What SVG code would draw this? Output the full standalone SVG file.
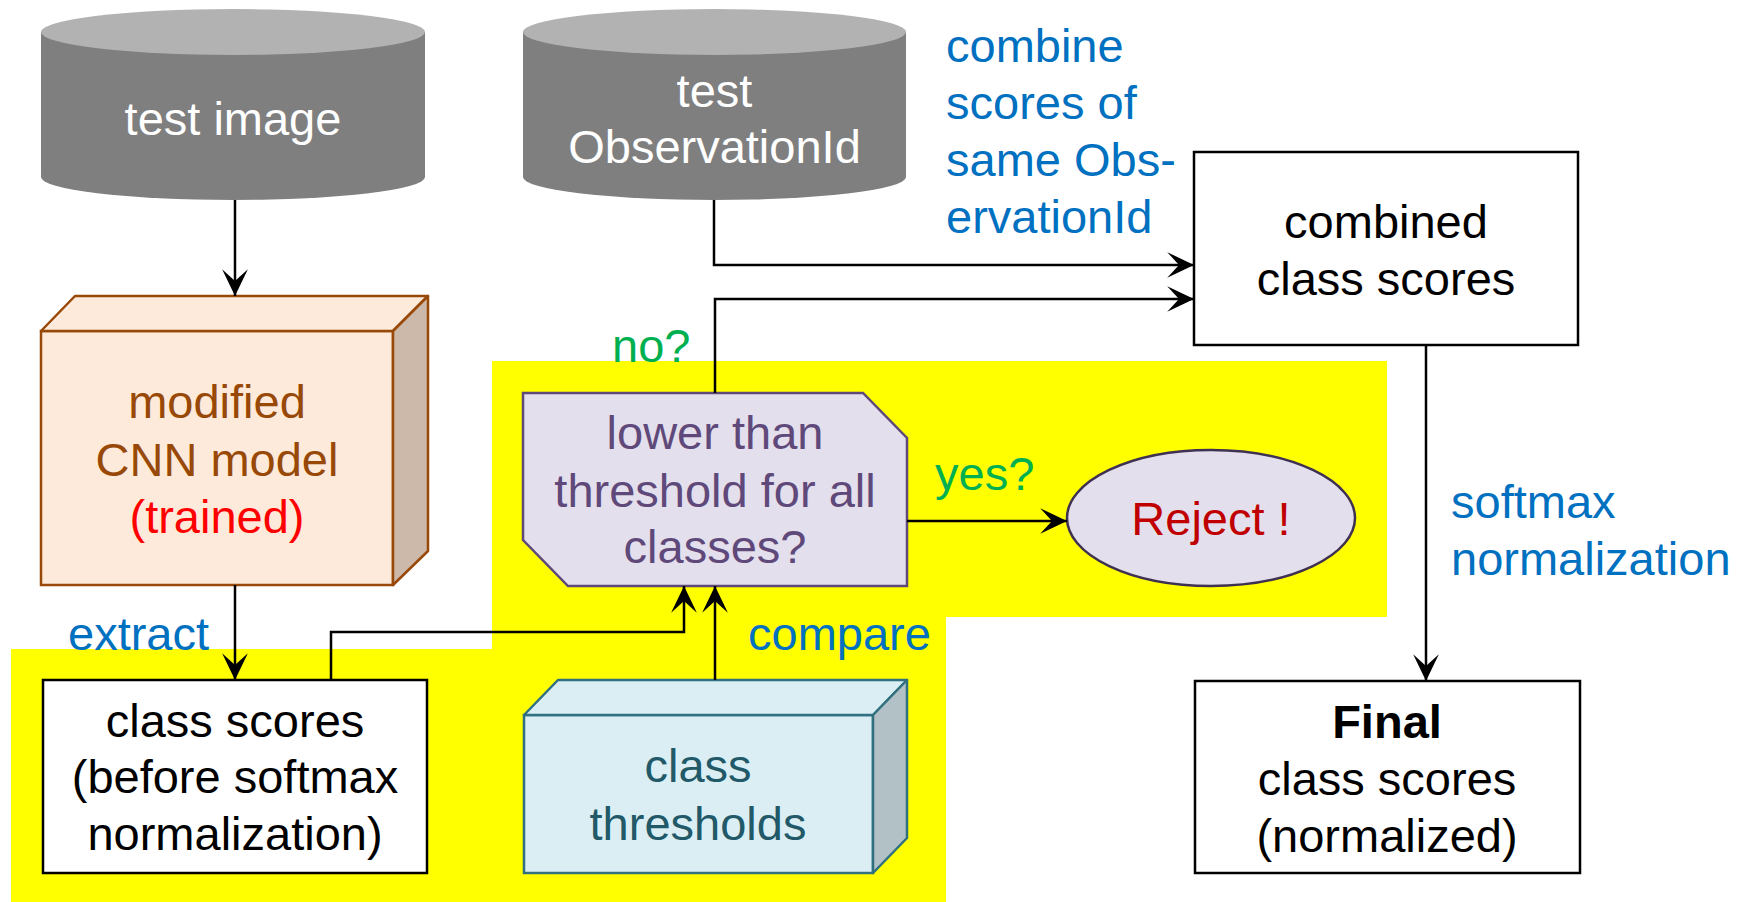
<svg xmlns="http://www.w3.org/2000/svg" width="1746" height="902" viewBox="0 0 1746 902">
<defs>
<style>
text{font-family:"Liberation Sans",Arial,sans-serif;font-size:47px}
.c{text-anchor:middle}
.blue{fill:#0070C0}
.green{fill:#00B050}
.conn{fill:none;stroke:#000;stroke-width:2.5}
.box{fill:#fff;stroke:#000;stroke-width:2.5}
</style>
<marker id="arr" markerUnits="userSpaceOnUse" markerWidth="30" markerHeight="30" viewBox="-27 -14 28 28" refX="0" refY="0" orient="auto">
<path d="M0,0 L-25,-12 L-14,0 L-25,12 Z" fill="#000"/>
</marker>
</defs>
<rect width="1746" height="902" fill="#fff"/>
<polygon id="highlight" points="11,649 492,649 492,361 1387,361 1387,617 946,617 946,902 11,902" fill="#FFFF00"/>

<g id="test-image">
<rect x="41" y="32" width="384" height="145" fill="#7F7F7F"/>
<ellipse cx="233" cy="177" rx="192" ry="23" fill="#7F7F7F"/>
<ellipse cx="233" cy="32" rx="192" ry="23" fill="#B2B2B2"/>
<text x="233" y="135" class="c" fill="#fff">test image</text>
</g>

<g id="test-observationid">
<rect x="523" y="32" width="383" height="145" fill="#7F7F7F"/>
<ellipse cx="714.5" cy="177" rx="191.5" ry="23" fill="#7F7F7F"/>
<ellipse cx="714.5" cy="32" rx="191.5" ry="23" fill="#B2B2B2"/>
<text x="714.5" y="107" class="c" fill="#fff">test</text>
<text x="714.5" y="163" class="c" fill="#fff">ObservationId</text>
</g>

<g id="cnn-model">
<rect x="41" y="331" width="352" height="254" fill="#FDEADA" stroke="#984807" stroke-width="2.5"/>
<polygon points="41,331 75,296 428,296 393,331" fill="#FDEADA" stroke="#984807" stroke-width="2.5" stroke-linejoin="round"/>
<polygon points="393,331 428,296 428,551 393,585" fill="#CDB9AA" stroke="#984807" stroke-width="2.5" stroke-linejoin="round"/>
<text x="217" y="418" class="c" fill="#984807">modified</text>
<text x="217" y="476" class="c" fill="#984807">CNN model</text>
<text x="217" y="533" class="c" fill="#FF0000">(trained)</text>
</g>

<g id="class-scores">
<rect x="43" y="680" width="384" height="193" class="box"/>
<text x="235" y="737" class="c">class scores</text>
<text x="235" y="793" class="c">(before softmax</text>
<text x="235" y="850" class="c">normalization)</text>
</g>

<g id="class-thresholds">
<rect x="524" y="715" width="349" height="158" fill="#DBEEF4" stroke="#31707F" stroke-width="2.5"/>
<polygon points="524,715 558,680 907,680 873,715" fill="#DBEEF4" stroke="#31707F" stroke-width="2.5" stroke-linejoin="round"/>
<polygon points="873,715 907,680 907,838 873,873" fill="#B1C1C6" stroke="#31707F" stroke-width="2.5" stroke-linejoin="round"/>
<text x="698" y="782" class="c" fill="#215968">class</text>
<text x="698" y="840" class="c" fill="#215968">thresholds</text>
</g>

<g id="decision">
<polygon points="523,393 863,393 907,438 907,586 568,586 523,540" fill="#E4DFEC" stroke="#5F497A" stroke-width="2.5"/>
<text x="715" y="449" class="c" fill="#5F497A">lower than</text>
<text x="715" y="507" class="c" fill="#5F497A">threshold for all</text>
<text x="715" y="563" class="c" fill="#5F497A">classes?</text>
</g>

<g id="reject">
<ellipse cx="1211" cy="518" rx="144" ry="68" fill="#E4DFEC" stroke="#3F3151" stroke-width="2.5"/>
<text x="1211" y="535" class="c" fill="#C00000">Reject !</text>
</g>

<g id="combined-scores">
<rect x="1194" y="152" width="384" height="193" class="box"/>
<text x="1386" y="238" class="c">combined</text>
<text x="1386" y="295" class="c">class scores</text>
</g>

<g id="final-scores">
<rect x="1195" y="681" width="385" height="192" class="box"/>
<text x="1387" y="738" class="c" font-weight="bold">Final</text>
<text x="1387" y="795" class="c">class scores</text>
<text x="1387" y="852" class="c">(normalized)</text>
</g>

<g id="connectors">
<path class="conn" d="M235,200 V296" marker-end="url(#arr)"/>
<path class="conn" d="M235,585 V680" marker-end="url(#arr)"/>
<path class="conn" d="M331,680 V632 H684 V586" marker-end="url(#arr)"/>
<path class="conn" d="M715,680 V586" marker-end="url(#arr)"/>
<path class="conn" d="M907,521 H1067" marker-end="url(#arr)"/>
<path class="conn" d="M715,393 V299 H1194" marker-end="url(#arr)"/>
<path class="conn" d="M714,200 V265 H1194" marker-end="url(#arr)"/>
<path class="conn" d="M1426,345 V681" marker-end="url(#arr)"/>
</g>

<g id="labels">
<text x="946" y="62" class="blue">combine</text>
<text x="946" y="119" class="blue">scores of</text>
<text x="946" y="176" class="blue">same Obs-</text>
<text x="946" y="233" class="blue">ervationId</text>
<text x="612" y="362" class="green">no?</text>
<text x="935" y="490" class="green">yes?</text>
<text x="68" y="650" class="blue">extract</text>
<text x="748" y="650" class="blue">compare</text>
<text x="1451" y="518" class="blue">softmax</text>
<text x="1451" y="575" class="blue">normalization</text>
</g>
</svg>
